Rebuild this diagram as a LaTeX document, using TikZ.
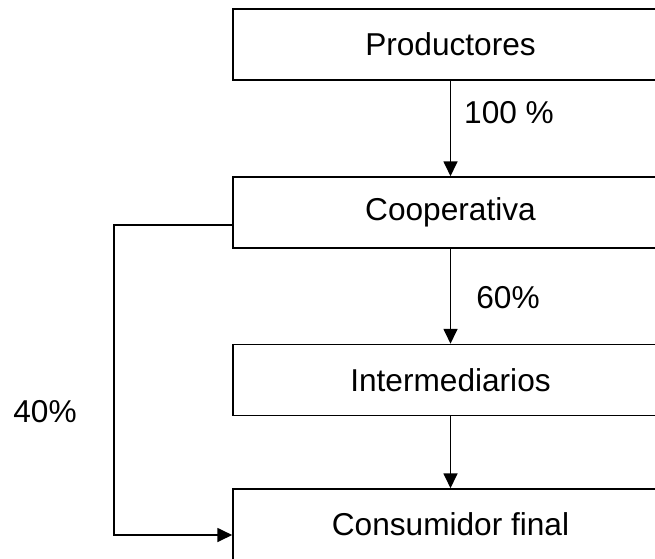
\documentclass[tikz,border=0pt]{standalone}
\usepackage{fontspec}
\setmainfont{Liberation Sans}
\usetikzlibrary{arrows.meta, positioning}

\begin{document}
\begin{tikzpicture}[x=0.02cm, y=-0.02cm,
    stage/.style={draw, line width=0.9pt, minimum width=435*0.02cm, minimum height=71*0.02cm, inner sep=0pt, font=\fontsize{18}{21}\selectfont},
    share/.style={font=\fontsize{18}{21}\selectfont},
    flow/.style={line width=0.85pt, -{Triangle[length=8.5pt, width=8pt]}}]
  \useasboundingbox (0,0) rectangle (655,558);

  % the chain of stages
  \node[stage] (prod) at (450.5, 44.5) {Productores};
  \node[stage] (coop) at (450.5, 212.5) {Cooperativa};
  \node[stage] (inter) at (450.5, 380) {Intermediarios};
  \node[stage] (cons) at (450.5, 524.5) {Consumidor final};

  % shares
  \node[share] (p100) at (509, 113) {100 \%};
  \node[share] (p60) at (508, 298) {60\%};
  \node[share] (p40) at (45, 412) {40\%};

  % flows down the chain
  \draw[flow] (prod) -- (coop);
  \draw[flow] (coop) -- (inter);
  \draw[flow] (inter) -- (cons);

  % direct sales
  \coordinate (split) at (114, 225);
  \coordinate (back) at (114, 535);
  \draw[flow] (coop.west |- split) -- (split) -- (back) -- (cons.west |- back);
\end{tikzpicture}
\end{document}
